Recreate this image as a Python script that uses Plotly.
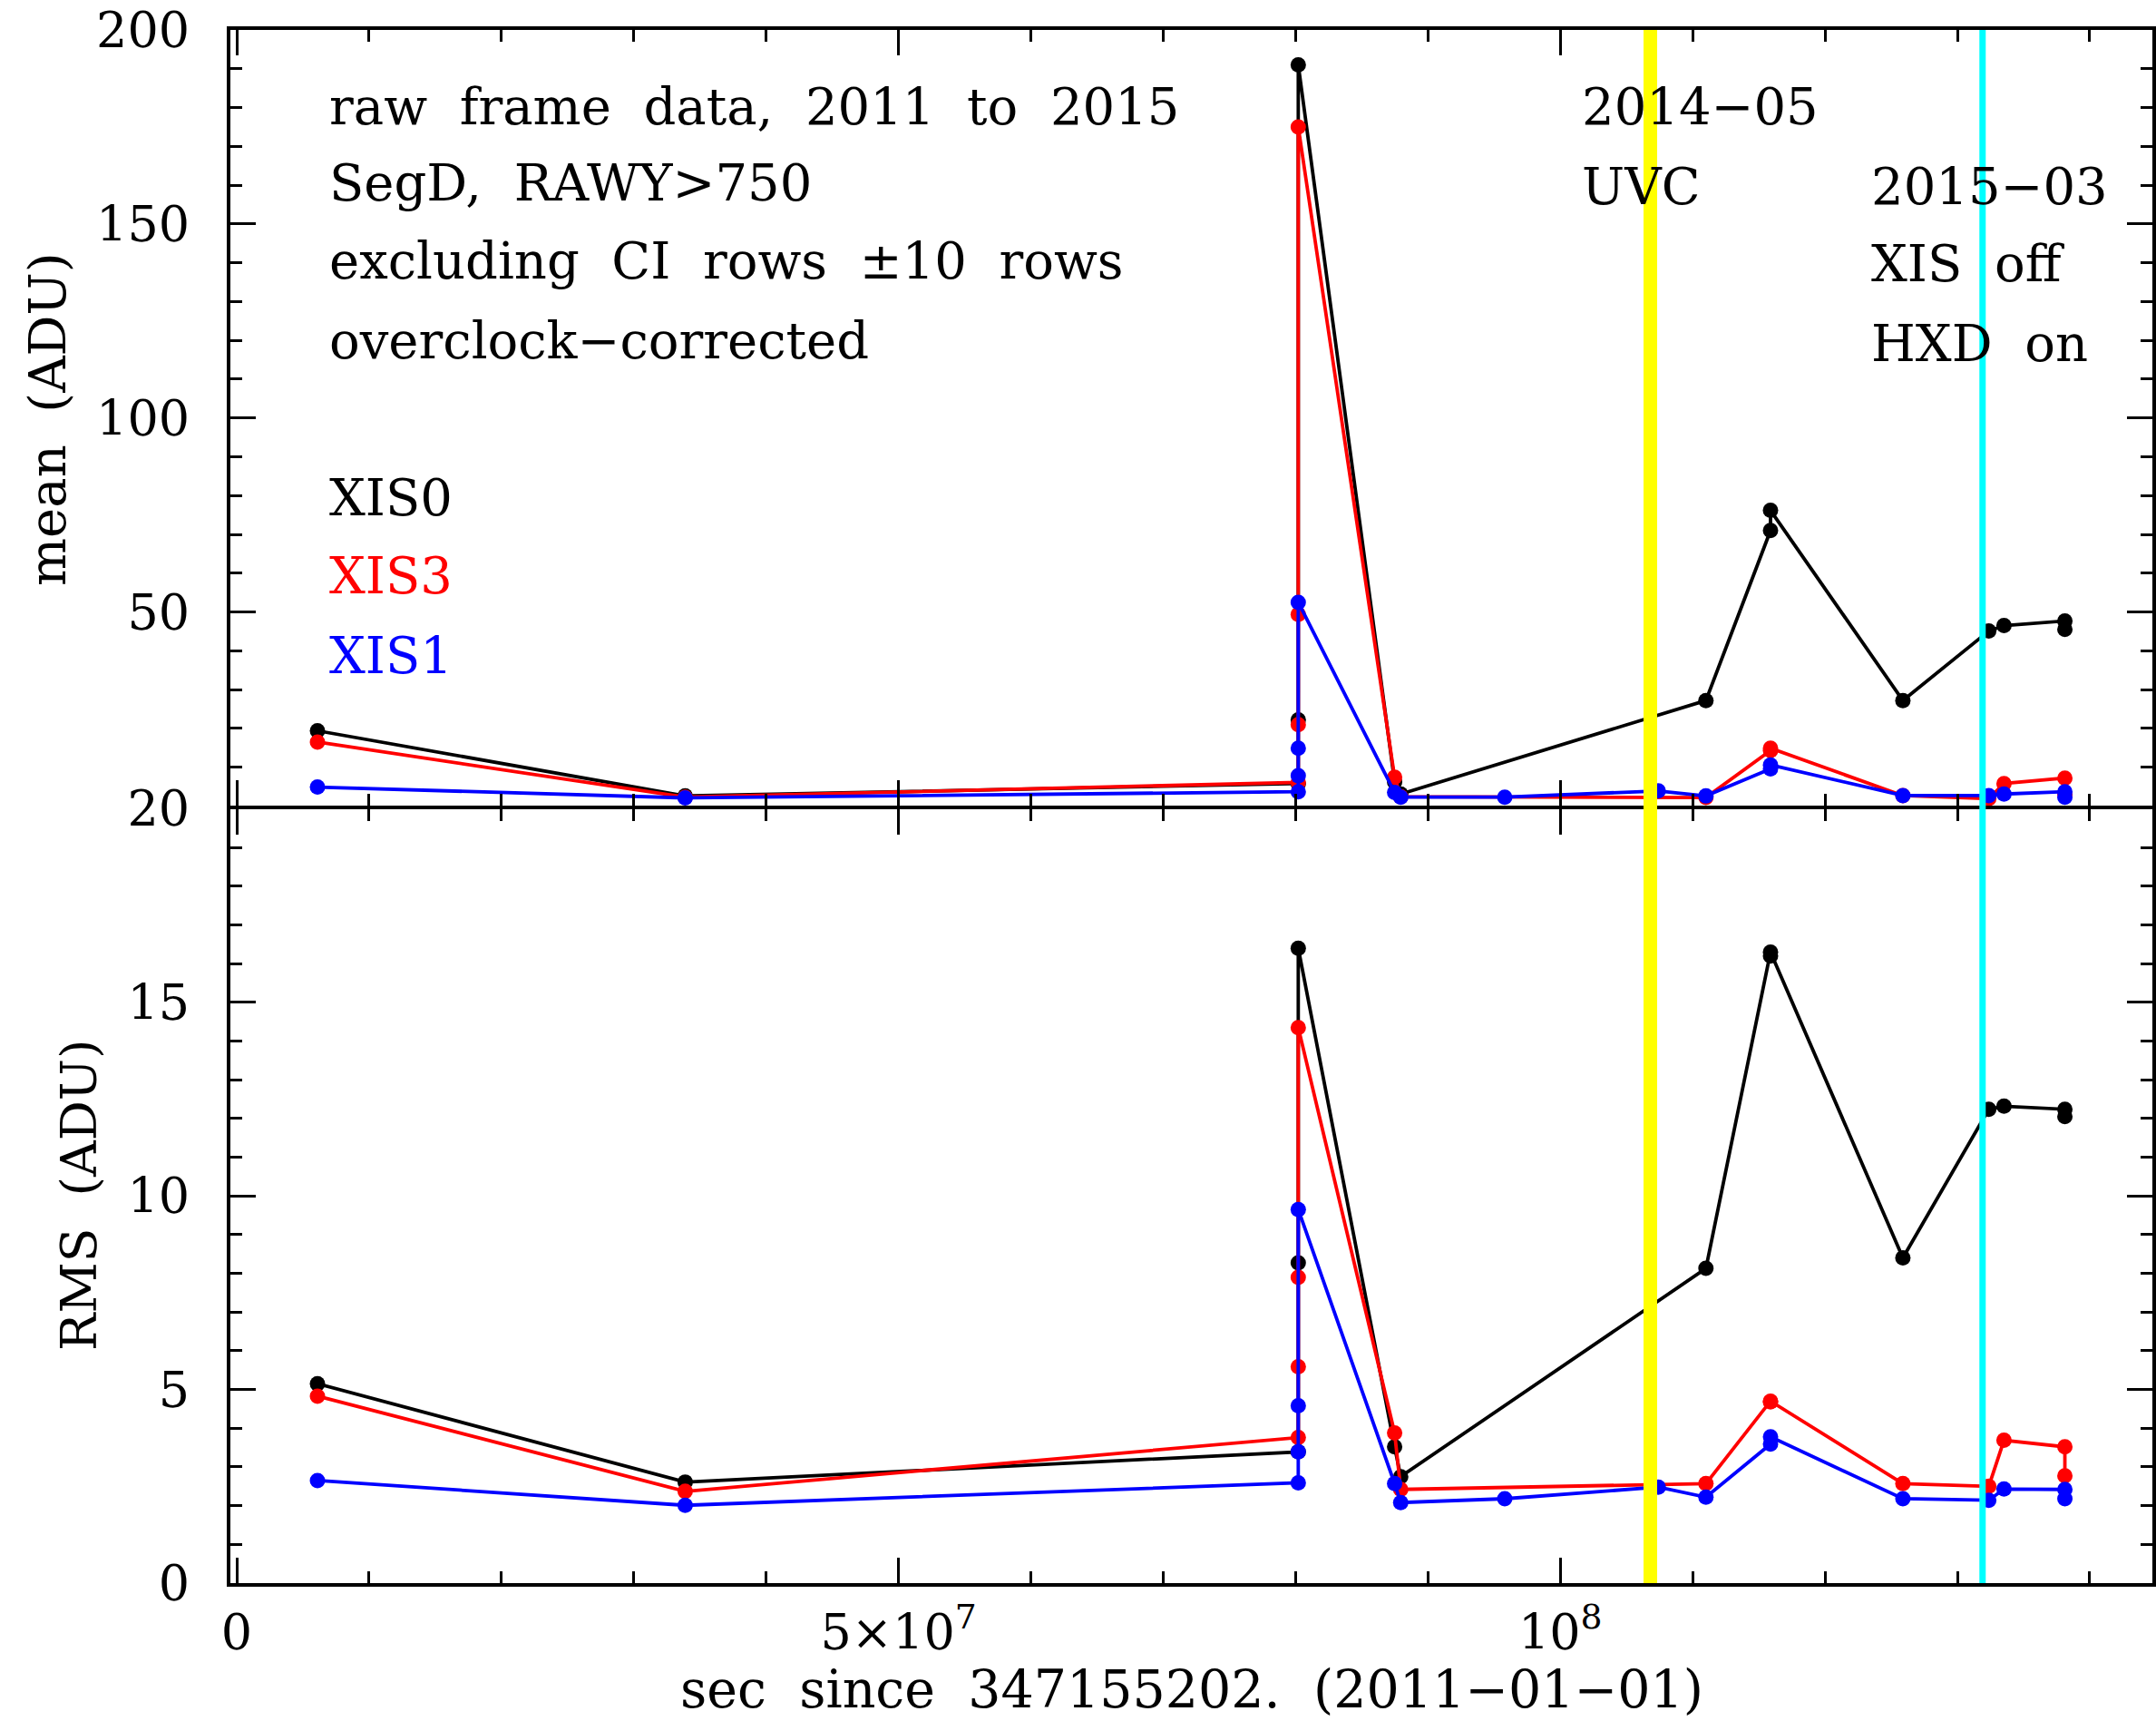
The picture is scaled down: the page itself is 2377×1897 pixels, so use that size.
import plotly.graph_objects as go
from plotly.subplots import make_subplots

# Observation times (s since 2011-01-01) and per-sensor frame statistics
t_xis0 = [6.1e6, 3.388e7, 8.02e7, 8.02e7, 8.02e7, 8.748e7, 8.794e7, 1.110e8,
          1.1588e8, 1.1588e8, 1.2588e8, 1.3237e8, 1.3352e8, 1.3812e8, 1.3812e8]
mean_xis0 = [19.4, 2.6, 5.8, 22.2, 191.0, 6.2, 3.1, 27.2,
             71.0, 76.2, 27.2, 45.1, 46.5, 47.7, 45.5]
rms_xis0 = [5.15, 2.61, 3.39, 8.27, 16.40, 3.52, 2.75, 8.13,
            16.2, 16.3, 8.40, 12.24, 12.32, 12.24, 12.05]

t_xis3 = [6.1e6, 3.388e7, 8.02e7, 8.02e7, 8.02e7, 8.02e7, 8.748e7, 8.794e7, 1.110e8,
          1.1588e8, 1.1588e8, 1.2588e8, 1.3237e8, 1.3352e8, 1.3812e8, 1.3812e8]
mean_xis3 = [16.5, 2.3, 6.1, 21.0, 49.4, 175.0, 7.4, 2.4, 2.2,
             14.3, 14.9, 2.7, 1.9, 5.8, 7.2, 3.0]
rms_xis3 = [4.83, 2.37, 3.76, 5.59, 7.90, 14.35, 3.88, 2.42, 2.57,
            4.68, 4.70, 2.57, 2.50, 3.69, 3.52, 2.77]

t_xis1 = [6.1e6, 3.388e7, 8.02e7, 8.02e7, 8.02e7, 8.02e7, 8.748e7, 8.794e7, 9.58e7,
          1.074e8, 1.110e8, 1.1588e8, 1.1588e8, 1.2588e8, 1.3237e8, 1.3352e8,
          1.3812e8, 1.3812e8]
mean_xis1 = [4.9, 2.1, 3.7, 7.8, 14.9, 52.5, 3.5, 2.3, 2.3,
             3.9, 2.6, 9.6, 10.6, 2.7, 2.7, 3.1, 3.7, 2.3]
rms_xis1 = [2.65, 2.01, 2.59, 3.39, 4.58, 9.65, 2.57, 2.08, 2.18,
            2.48, 2.22, 3.59, 3.78, 2.18, 2.14, 2.43, 2.42, 2.18]

# Event epochs (s since 2011-01-01)
t_uvc = 1.068e8
t_xis_off = 1.319e8

FONT = "DejaVu Serif"
BLACK, RED, BLUE = "#000000", "#ff0000", "#0000ff"
NB = "\u00a0"  # extra word spacing for the wide plotter-style text


def wide(s):
    return s.replace(" ", " " + NB)


fig = make_subplots(rows=2, cols=1, shared_xaxes=True, vertical_spacing=0)

series = [
    ("XIS0", t_xis0, mean_xis0, rms_xis0, BLACK),
    ("XIS3", t_xis3, mean_xis3, rms_xis3, RED),
    ("XIS1", t_xis1, mean_xis1, rms_xis1, BLUE),
]
for name, t, m, r, c in series:
    style = dict(mode="lines+markers", line=dict(color=c, width=3.8),
                 marker=dict(color=c, size=17), showlegend=False, name=name)
    fig.add_trace(go.Scatter(x=t, y=m, **style), row=1, col=1)
    fig.add_trace(go.Scatter(x=t, y=r, **style), row=2, col=1)

axis_common = dict(
    showline=True, linewidth=4, linecolor="black", mirror="ticks",
    ticks="inside", ticklen=28, tickwidth=3, tickcolor="black",
    showgrid=False, zeroline=False,
    tickfont=dict(family=FONT, size=54, color="black"),
)

x_range = [-4.8e5, 1.4473e8]
x_minor = dict(dtick=1e7, tick0=0, ticks="inside", ticklen=13, tickwidth=3,
               tickcolor="black", showgrid=False)

fig.update_xaxes(range=x_range, tickmode="array", tickvals=[0, 5e7, 1e8],
                 ticktext=["0", "5×10<sup>7</sup>", "10<sup>8</sup>"],
                 minor=x_minor, **axis_common)
fig.update_xaxes(showticklabels=False, row=1, col=1)
fig.update_xaxes(ticklabelstandoff=4, row=2, col=1)

# the two panels leave a small gap so that their shared frame lines sit together
fig.update_yaxes(range=[0, 200], tickmode="array",
                 tickvals=[0, 50, 100, 150, 200],
                 ticktext=["", "50", "100", "150", "200"],
                 minor=dict(dtick=10, tick0=0, ticks="inside", ticklen=13,
                            tickwidth=3, tickcolor="black", showgrid=False),
                 domain=[0.5003, 1.0], ticklabelstandoff=30,
                 row=1, col=1, **axis_common)
fig.update_yaxes(range=[0, 20], tickmode="array",
                 tickvals=[0, 5, 10, 15, 20],
                 ticktext=["0", "5", "10", "15", "20"],
                 minor=dict(dtick=1, tick0=0, ticks="inside", ticklen=13,
                            tickwidth=3, tickcolor="black", showgrid=False),
                 domain=[0.0, 0.4985], ticklabelstandoff=30,
                 row=2, col=1, **axis_common)

# Event markers spanning both panels
fig.add_shape(type="line", xref="x", yref="paper", x0=t_uvc, x1=t_uvc, y0=0, y1=1,
              line=dict(color="#ffff00", width=15), layer="above")
fig.add_shape(type="line", xref="x", yref="paper", x0=t_xis_off, x1=t_xis_off, y0=0, y1=1,
              line=dict(color="#00ffff", width=7), layer="above")


def note(text, x, y, color="black", size=56, **kw):
    fig.add_annotation(text=wide(text), x=x, y=y, xref="paper", yref="paper",
                       xanchor=kw.pop("xanchor", "left"), yanchor=kw.pop("yanchor", "middle"),
                       showarrow=False, font=dict(family=FONT, size=size, color=color), **kw)


info_lines = ["raw frame data, 2011 to 2015", "SegD, RAWY>750",
              "excluding CI rows ±10 rows", "overclock−corrected"]
info_y = [0.9504, 0.9013, 0.8511, 0.7997]
for txt, y in zip(info_lines, info_y):
    note(txt, 0.0504, y)

legend_y = [0.6986, 0.6484, 0.5975]
for (name, _, _, _, c), y in zip(series, legend_y):
    note(name, 0.0504, y, color=c)

note("2014−05", 0.7023, 0.9504)
note("UVC", 0.7023, 0.8995)
note("2015−03", 0.8526, 0.8995)
note("XIS off", 0.8526, 0.8493)
note("HXD on", 0.8526, 0.7979)

# Axis titles
note("mean (ADU)", -0.0951, 0.7497, xanchor="center", textangle=-90, size=56)
note("RMS (ADU)", -0.0791, 0.2497, xanchor="center", textangle=-90, size=55)
note("sec since 347155202. (2011−01−01)", 0.5, -0.0683, xanchor="center", size=57)

fig.update_layout(
    width=2377, height=1897,
    margin=dict(l=254, r=0, t=33, b=152),
    plot_bgcolor="white", paper_bgcolor="white",
    font=dict(family=FONT, color="black"),
)

fig.write_html("out.html")
